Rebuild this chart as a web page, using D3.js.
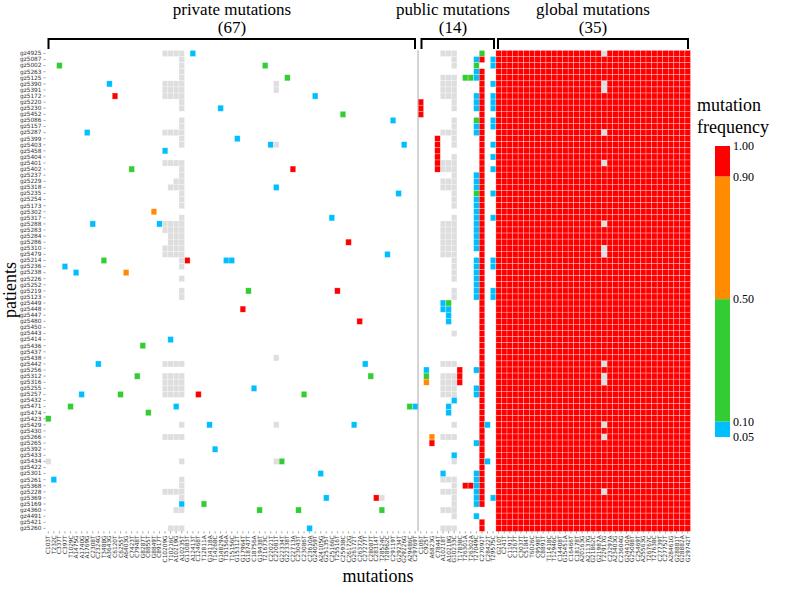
<!DOCTYPE html>
<html><head><meta charset="utf-8">
<script src="https://cdn.jsdelivr.net/npm/d3@7"></script>
<style>html,body{margin:0;padding:0;background:#fff}svg{display:block}</style>
</head><body><svg id="c" width="800" height="609"></svg>
<script>
const patients = ["gz4925","gz5087","gz5002","gz5263","gz5125","gz5390","gz5391","gz5172","gz5220","gz5230","gz5452","gz5086","gz5157","gz5287","gz5399","gz5403","gz5458","gz5404","gz5401","gz5402","gz5237","gz5229","gz5318","gz5235","gz5254","gz5173","gz5302","gz5317","gz5288","gz5283","gz5284","gz5286","gz5310","gz5479","gz5214","gz5236","gz5238","gz5226","gz5252","gz5219","gz5123","gz5449","gz5448","gz5447","gz5480","gz5450","gz5443","gz5414","gz5436","gz5437","gz5438","gz5442","gz5256","gz5312","gz5316","gz5255","gz5257","gz5432","gz5471","gz5474","gz5423","gz5429","gz5430","gz5266","gz5265","gz5392","gz5433","gz5434","gz5422","gz5301","gz5261","gz5368","gz5228","gz5369","gz5169","gz4360","gz4491","gz5421","gz5260"];
const privateMutations = ["C103T","T232C","C337T","C397T","T1029C","A1475G","A1740G","A1769G","C2308T","C2324G","T3488G","A3643G","C6120T","C6255T","A6403G","C7423T","C7948T","G8287T","C8855T","G8849T","C8917T","C10209G","T10216C","A10219G","A10235T","G11083T","A12413T","C12468T","T12811A","G14118A","T14268C","G14829A","T15156A","T15156C","G15312T","G17964T","G18747T","C18756A","G19438T","T21673C","C22021T","C22081T","G22334T","G22338T","C22713A","C23043T","C23086T","C23610A","G24059T","A24105G","G25135T","C25166C","T25516T","C25938C","C26172G","G26172T","C26372A","C27277T","C28087T","C28314T","T28524C","T28962C","C29119T","G29234T","G29226G","A29486C","C29769T"];
const publicMutations = ["C106T","C925T","A6823G","C7844T","A10218T","A10218G","G10233C","T17838C","T26301A","T26302A","T27049C","C27092T","C28422T","T29575C"];
const globalMutations = ["G210T","C241T","C1191T","C1267T","C3037T","C5184T","T6026C","C9598T","C8891T","T11418C","T12946C","C14408T","G15451A","C16466T","C18178T","A20163G","A21137G","G21862C","G21987A","T22917G","C23297A","A23403G","C23604G","G24410A","G25088T","C25469T","A25563G","T26767C","T27638C","C27739T","C27752T","A28461G","G28881T","G28882A","G29742T"];
const mutations = privateMutations.concat(publicMutations, globalMutations);

const LOW = 0.07, MID = 0.3, HIGH = 0.7, FIXED = 0.95, ABSENT = 0;

// private mutations: [patient row, mutation column, frequency]
const privateCells = [[0,26,LOW],[2,2,MID],[2,39,MID],[5,11,LOW],[7,12,FIXED],[9,31,LOW],[13,7,LOW],[14,34,LOW],[15,40,LOW],[16,21,LOW],[19,15,MID],[26,19,HIGH],[28,8,LOW],[28,20,LOW],[34,10,MID],[34,25,FIXED],[34,32,LOW],[34,33,LOW],[35,3,LOW],[36,5,LOW],[36,14,HIGH],[39,36,MID],[42,35,FIXED],[47,22,LOW],[48,17,MID],[51,9,LOW],[53,16,MID],[55,37,LOW],[56,6,LOW],[56,13,MID],[56,27,FIXED],[58,4,MID],[58,23,LOW],[59,18,MID],[60,0,MID],[61,29,LOW],[65,30,LOW],[70,1,LOW],[74,24,LOW],[74,28,MID],[75,38,MID],[4,43,MID],[7,48,LOW],[10,53,MID],[11,62,LOW],[15,64,LOW],[19,44,FIXED],[22,41,LOW],[23,63,LOW],[27,51,LOW],[31,54,FIXED],[33,61,LOW],[39,52,FIXED],[44,56,FIXED],[51,57,LOW],[53,58,MID],[56,46,MID],[58,65,MID],[58,66,LOW],[61,55,LOW],[67,42,MID],[69,49,LOW],[73,50,LOW],[73,59,FIXED],[75,45,MID],[75,60,MID],[78,47,LOW]];

// grey blocks: [first row, last row, first column, last column]
const privateGrey = [[0,0,21,24],[1,4,24,24],[5,7,21,24],[8,9,24,24],[11,12,24,24],[13,13,21,24],[14,15,24,24],[18,18,21,24],[19,20,24,24],[21,21,23,24],[22,22,22,24],[23,25,24,24],[27,27,24,24],[28,29,21,24],[30,31,22,24],[32,33,21,24],[34,35,24,24],[37,37,24,24],[39,40,24,24],[51,51,21,24],[53,56,21,24],[61,61,24,24],[63,63,21,24],[67,67,24,24],[70,71,24,24],[72,72,21,24],[73,73,24,24],[75,75,23,24],[78,78,22,24],[5,6,41,41],[15,15,41,41],[50,50,41,41],[61,61,41,41],[67,67,41,41],[67,67,0,0],[73,73,60,60]];
const publicGrey = [[0,0,71,73],[1,2,73,73],[4,7,71,73],[8,9,73,73],[11,12,73,73],[13,13,71,73],[14,15,73,73],[17,17,73,73],[18,19,71,73],[20,20,73,73],[21,22,71,73],[23,25,73,73],[27,27,73,73],[28,33,71,73],[34,37,73,73],[39,40,73,73],[46,46,73,73],[51,51,71,73],[53,56,71,73],[61,61,73,73],[63,63,71,73],[67,67,73,73],[70,70,71,73],[71,71,73,73],[72,72,71,73],[73,74,73,73],[75,75,71,73],[76,76,73,73],[78,78,71,73]];

// public mutations: [first row, last row, column, frequency]
const publicRuns = [[8,10,67,FIXED],[14,19,70,FIXED],[52,52,68,LOW],[53,53,68,MID],[54,54,68,HIGH],[63,63,69,HIGH],[64,64,69,FIXED],[52,54,74,FIXED],[41,42,71,LOW],[41,41,72,MID],[42,44,72,LOW],[58,59,72,LOW],[57,57,73,LOW],[66,66,73,LOW],[69,69,71,LOW],[4,4,75,MID],[4,4,76,MID],[71,71,75,FIXED],[71,71,76,FIXED],
 [1,1,77,LOW],[2,2,77,MID],[3,4,77,LOW],[7,9,77,LOW],[11,11,77,MID],[12,13,77,LOW],[20,22,77,LOW],[23,23,77,MID],[24,32,77,LOW],[34,40,77,LOW],[52,52,77,LOW],[55,56,77,LOW],[64,64,77,LOW],[69,74,77,LOW],[76,76,77,LOW],
 [0,0,78,MID],[1,1,78,FIXED],[3,74,78,FIXED],[77,78,78,FIXED],
 [61,61,79,LOW],[67,67,79,LOW],
 [1,2,80,LOW],[5,5,80,LOW],[7,9,80,LOW],[11,12,80,LOW],[15,15,80,LOW],[17,17,80,LOW],[19,19,80,LOW],[23,23,80,LOW],[27,27,80,LOW],[34,35,80,LOW],[39,40,80,LOW],[73,73,80,LOW]];

// global mutation absent (grey) in these patient rows at this column
const globalGreyColumn = 100;
const globalGreyRows = [0,5,6,13,18,28,32,33,51,53,54,61,63,72];

const legendStops = [1.00,0.90,0.50,0.10,0.05];
const legendColors = ["#ff0000","#ff8c00","#32cd32","#00bfff"];

const cells = [];
privateCells.forEach(([r,c,v]) => cells.push({r,c,v}));
privateGrey.concat(publicGrey).forEach(([r0,r1,c0,c1]) => {
  for (let r=r0;r<=r1;r++) for (let c=c0;c<=c1;c++) cells.push({r,c,v:ABSENT});
});
publicRuns.forEach(([r0,r1,c,v]) => { for (let r=r0;r<=r1;r++) cells.push({r,c,v}); });
patients.forEach((p,r) => globalMutations.forEach((m,g) => {
  const c = privateMutations.length + publicMutations.length + g;
  cells.push({r,c,v: (c===globalGreyColumn && globalGreyRows.includes(r)) ? ABSENT : FIXED});
}));

const svg = d3.select("#c");
const x = d3.scaleBand().domain(d3.range(mutations.length)).range([45.5,690.5]);
const y = d3.scaleBand().domain(d3.range(patients.length)).range([50.4,531.4]);
const color = v => v===ABSENT ? "#dedede" : v<0.1 ? legendColors[3] : v<0.5 ? legendColors[2] : v<0.9 ? legendColors[1] : legendColors[0];

svg.append("g").selectAll("rect").data(cells).join("rect")
  .attr("x",d=>x(d.c)).attr("y",d=>y(d.r))
  .attr("width",x.bandwidth()).attr("height",y.bandwidth())
  .attr("fill",d=>color(d.v))
  .attr("stroke","#fff").attr("stroke-opacity",0.55).attr("stroke-width",0.5);

// axes
const axFont = "DejaVu Sans";
const yAxis = svg.append("g").attr("transform","translate(45.5,0)")
  .call(d3.axisLeft(y).tickSize(2).tickPadding(2).tickFormat(i=>patients[i]));
const xAxis = svg.append("g").attr("transform","translate(0,531.4)")
  .call(d3.axisBottom(x).tickSize(2).tickPadding(2).tickFormat(i=>mutations[i]));
yAxis.selectAll("text").attr("font-family",axFont).attr("font-size",5.8).attr("fill","#333");
xAxis.selectAll("text").attr("font-family",axFont).attr("font-size",5.8).attr("fill","#333")
  .attr("text-anchor","end").attr("dy",0).attr("dx",0)
  .attr("transform","translate(2,3) rotate(-90 0 0)")
  .attr("x",-1).attr("y",0);
svg.selectAll(".domain").remove();
svg.selectAll(".tick line").attr("stroke","#444").attr("stroke-width",0.5);

// divider between private and public
svg.append("line").attr("x1",x(67)).attr("x2",x(67)).attr("y1",50.4).attr("y2",531.4)
  .attr("stroke","#aaa").attr("stroke-width",1);

// brackets and headers
const serif = "Liberation Serif";
const groups = [
 {name:"private mutations", n:privateMutations.length, from:48.5, to:415, cx:232},
 {name:"public mutations", n:publicMutations.length, from:421.5, to:494, cx:453},
 {name:"global mutations", n:globalMutations.length, from:498, to:688, cx:593}
];
groups.forEach(g=>{
  svg.append("path").attr("d",`M${g.from},49V39H${g.to}V49`).attr("fill","none").attr("stroke","#000").attr("stroke-width",2);
  svg.append("text").attr("x",g.cx).attr("y",15).attr("text-anchor","middle").attr("font-family",serif).attr("font-size",17).text(g.name);
  svg.append("text").attr("x",g.cx).attr("y",33).attr("text-anchor","middle").attr("font-family",serif).attr("font-size",17).text("("+g.n+")");
});
svg.append("text").attr("transform","translate(16,290) rotate(-90)").attr("text-anchor","middle").attr("font-family",serif).attr("font-size",18).text("patients");
svg.append("text").attr("x",378).attr("y",582).attr("text-anchor","middle").attr("font-family",serif).attr("font-size",18).text("mutations");

// colour bar
const bar = d3.scaleLinear().domain([1,0.05]).range([146,437]);
legendColors.forEach((c,i)=>{
  svg.append("rect").attr("x",715).attr("width",15).attr("y",bar(legendStops[i])).attr("height",bar(legendStops[i+1])-bar(legendStops[i])).attr("fill",c);
});
svg.append("g").selectAll("text").data(legendStops).join("text")
  .attr("x",733).attr("y",d=>bar(d)+4).attr("font-family",serif).attr("font-size",12).text(d=>d.toFixed(2));
svg.append("text").attr("x",697).attr("y",111).attr("font-family",serif).attr("font-size",18).text("mutation");
svg.append("text").attr("x",697).attr("y",133).attr("font-family",serif).attr("font-size",18).text("frequency");
</script></body></html>
